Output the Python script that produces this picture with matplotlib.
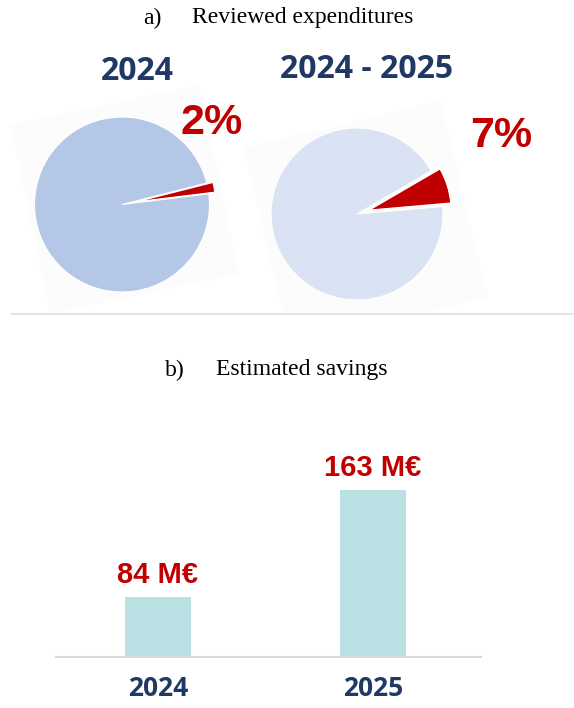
import matplotlib.pyplot as plt
from matplotlib.patches import Rectangle
from matplotlib.lines import Line2D

# data
pie_titles = ["2024", "2024 - 2025"]
pie_shares = [2, 7]            # % reviewed
bar_years = ["2024", "2025"]
bar_savings = [84, 163]        # M€

navy = "#1f3864"
red = "#c00000"
pie_colors = ["#b4c7e7", "#dae3f3"]
bar_color = "#bbe0e3"

W, H = 574, 708
fig = plt.figure(figsize=(W / 100, H / 100), dpi=100)


def px_axes(cx, cy, half_w, half_h):
    # axes box in pixel coordinates (y from top)
    return fig.add_axes([(cx - half_w) / W, (H - cy - half_h) / H,
                         2 * half_w / W, 2 * half_h / H])


# section titles
serif = dict(family="Liberation Serif", fontsize=17, ha="left", va="center")
fig.text(143 / W, 1 - 18 / H, "a)", **serif)
fig.text(192 / W, 1 - 18 / H, "Reviewed expenditures", **serif)
fig.text(165 / W, 1 - 370 / H, "b)", **serif)
fig.text(216 / W, 1 - 370 / H, "Estimated savings", **serif)

# divider
div_y = 1 - 314 / H
fig.add_artist(Line2D([11 / W, 1], [div_y, div_y],
                      transform=fig.transFigure, color="#dedede", lw=1.2))
top_clip = Rectangle((0, div_y), 1, 1 - div_y, transform=fig.transFigure)

# pies
pie_specs = [
    # centre px, radius px, startangle, explode, red radius, bg square (cx, cy, side, angle)
    ((122, 204.5), 87.5, 7.0, 0.17, 0.9, (0.03, 0.06, 2.2, 11.8)),
    ((357, 214), 86, 5.0, 0.15, 0.95, (0.1, -0.1, 2.35, 13.7)),
]
title_pos = [(137, 72), (366, 69)]
pct_pos = [(212, 123), (501, 136)]

for i, (share, spec) in enumerate(zip(pie_shares, pie_specs)):
    (cx, cy), r, start, expl, rr, sq = spec
    ax = px_axes(cx, cy, 100, 100)
    lim = 100 / r
    ax.axis("off")
    sx, sy, side, ang = sq
    bg = Rectangle((sx - side / 2, sy - side / 2), side, side, angle=ang,
                   rotation_point="center", facecolor="#fcfcfc",
                   edgecolor="none", zorder=0)
    ax.add_patch(bg)
    bg.set_clip_path(top_clip)
    wedges, _ = ax.pie([share, 100 - share], colors=[red, pie_colors[i]],
                       startangle=start, counterclock=True, explode=[expl, 0],
                       wedgeprops=dict(edgecolor="white", linewidth=0.8))
    wedges[0].set_radius(rr)
    for w in wedges:
        w.set_zorder(2)
    ax.set_xlim(-lim, lim)
    ax.set_ylim(-lim, lim)
    ax.set_aspect("equal")

    tx, ty = title_pos[i]
    fig.text(tx / W, 1 - ty / H, pie_titles[i], family="Open Sans",
             fontweight="bold", fontsize=23, color=navy, ha="center", va="center")
    px, py = pct_pos[i]
    fig.text(px / W, 1 - py / H, f"{share}%", family="Liberation Sans",
             fontweight="bold", fontsize=31, color=red, ha="center", va="center")

# bars
axb = fig.add_axes([56 / W, (H - 657) / H, (481 - 56) / W, 217 / H])
x = range(len(bar_years))
bars = axb.bar(x, bar_savings, width=0.31, color=bar_color, zorder=2)
axb.set_xlim(-0.474, 1.502)
axb.set_ylim(40, 200)
for s in ["top", "right", "left"]:
    axb.spines[s].set_visible(False)
axb.spines["bottom"].set_color("#d9d9d9")
axb.spines["bottom"].set_linewidth(1.5)
axb.set_yticks([])
axb.set_xticks(list(x))
axb.set_xticklabels(bar_years, family="Open Sans", fontweight="bold",
                    fontsize=19, color=navy)
axb.tick_params(axis="x", length=0, pad=13)
for b, v in zip(bars, bar_savings):
    axb.annotate(f"{v} M€", (b.get_x() + b.get_width() / 2, v),
                 xytext=(0, 10), textcoords="offset points", ha="center",
                 va="baseline", family="Liberation Sans", fontweight="bold",
                 fontsize=21, color=red)

fig.savefig("out.png", dpi=100, facecolor="white")
